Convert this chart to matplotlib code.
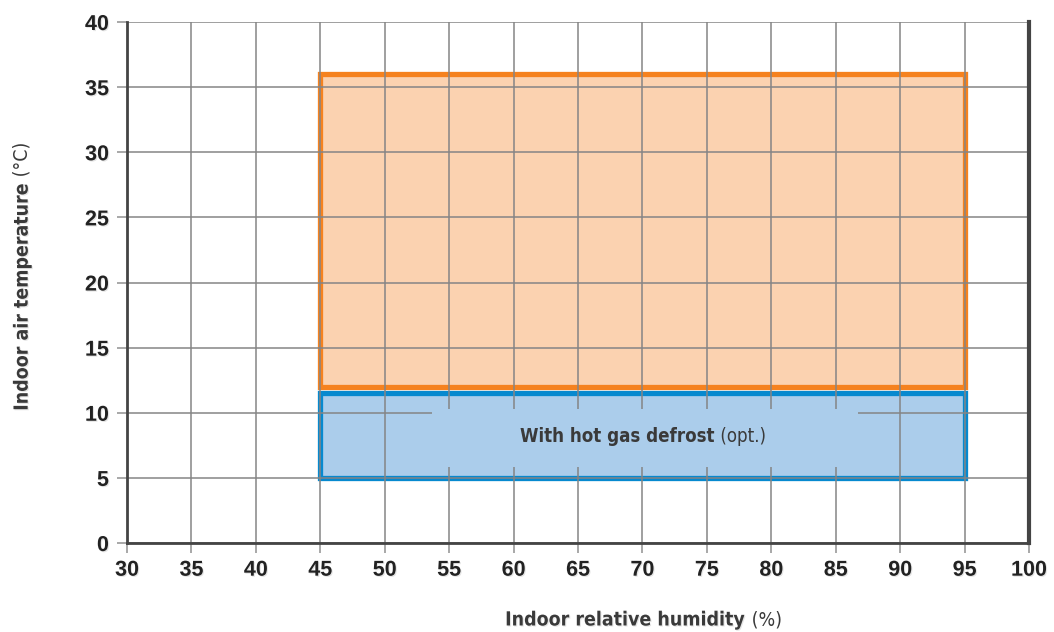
import matplotlib.pyplot as plt
import matplotlib.patheffects as pe
from matplotlib.patches import Rectangle

# Operating envelope (humidity %, temperature °C)
x_ticks = [30, 35, 40, 45, 50, 55, 60, 65, 70, 75, 80, 85, 90, 95, 100]
y_ticks = [0, 5, 10, 15, 20, 25, 30, 35, 40]
standard_rh = [45, 95]
standard_temp = [12, 36]
defrost_rh = [45, 95]
defrost_temp = [5, 11.5]

label_font = dict(family='DejaVu Sans', stretch='condensed', color='#3a3a3a', fontsize=14)
shadow = [pe.withSimplePatchShadow(offset=(0.8, -0.8), shadow_rgbFace='#000000', alpha=0.1)]

fig = plt.figure(figsize=(10.54, 6.32), dpi=100)
ax = fig.add_axes([0.1205, 0.1408, 0.8558, 0.8244])

ax.set_xlim(30, 100)
ax.set_ylim(0, 40)
ax.set_xticks(x_ticks)
ax.set_yticks(y_ticks)

# filled envelopes under the grid
ax.add_patch(Rectangle((standard_rh[0], standard_temp[0]), standard_rh[1] - standard_rh[0],
                       standard_temp[1] - standard_temp[0], facecolor='#FBD2B0',
                       edgecolor='#F5821F', linewidth=3.8, zorder=1))
ax.add_patch(Rectangle((defrost_rh[0], defrost_temp[0]), defrost_rh[1] - defrost_rh[0],
                       defrost_temp[1] - defrost_temp[0], facecolor='#ABCDEB',
                       edgecolor='#0689CF', linewidth=3.8, zorder=1))

ax.set_axisbelow(False)
ax.grid(True, color='#858585', linewidth=1.1, zorder=2)

# label panel covering the grid lines
ax.add_patch(Rectangle((53.7, 5.8), 33.0, 4.5, facecolor='#ABCDEB',
                       edgecolor='none', zorder=3))
box_font = dict(label_font, fontsize=13.4)
ax.text(75.6, 8.15, 'With hot gas defrost', ha='right', va='center',
        fontweight='bold', zorder=4, **box_font)
ax.text(75.6, 8.15, ' (opt.)', ha='left', va='center', zorder=4, **box_font)

ax.spines['top'].set_visible(False)
ax.spines['left'].set_color('#444444')
ax.spines['left'].set_linewidth(2)
ax.spines['bottom'].set_color('#444444')
ax.spines['bottom'].set_linewidth(2)
ax.spines['right'].set_color('#444444')
ax.spines['right'].set_linewidth(3)
for sp in ax.spines.values():
    sp.set_zorder(5)

ax.tick_params(axis='y', direction='out', length=7, width=1.2, color='#999999', pad=6,
               labelsize=15.5, labelcolor='#222222')
ax.tick_params(axis='x', direction='out', length=7, width=1.2, color='#999999', pad=5,
               labelsize=15.5, labelcolor='#222222')
for lab in ax.get_xticklabels() + ax.get_yticklabels():
    lab.set_fontweight('bold')
    lab.set_family('Liberation Sans')
    lab.set_path_effects(shadow)

fig.text(0.708, 0.004, 'Indoor relative humidity', ha='right', va='bottom',
         fontweight='bold', path_effects=shadow, **label_font)
fig.text(0.708, 0.004, ' (%)', ha='left', va='bottom', **label_font)
fig.text(0.012, 0.712, 'Indoor air temperature', ha='left', va='top', rotation=90,
         fontweight='bold', path_effects=shadow, **label_font)
fig.text(0.012, 0.712, ' (°C)', ha='left', va='bottom', rotation=90, **label_font)

fig.savefig('out.png', dpi=100)
